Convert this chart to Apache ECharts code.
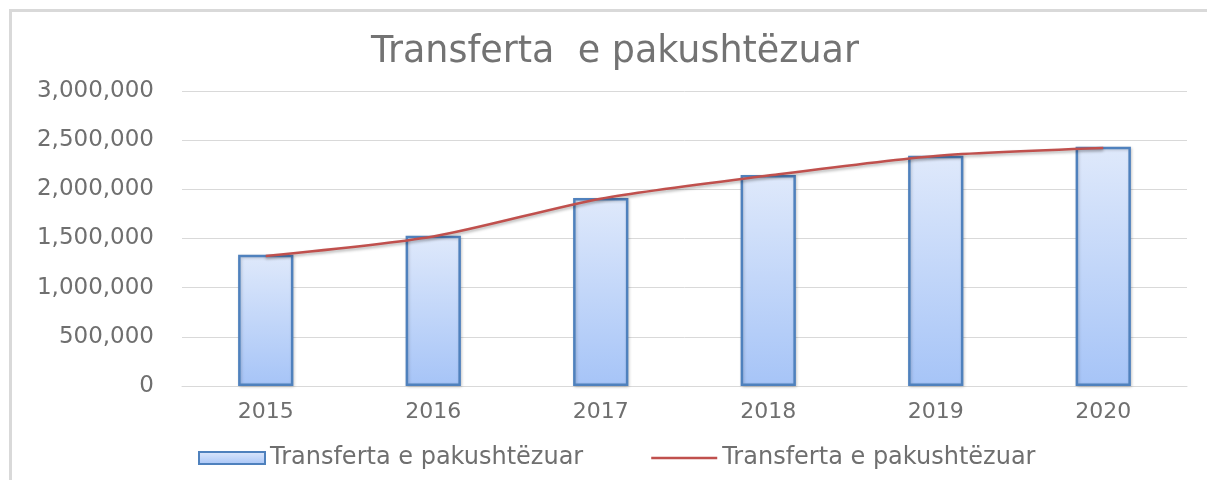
<!DOCTYPE html>
<html>
<head>
<meta charset="utf-8">
<script src="https://cdn.jsdelivr.net/npm/echarts@6/dist/echarts.min.js"></script>
<style>
  html, body { margin: 0; padding: 0; background: #fff; overflow: hidden; }
  #chart { width: 1207px; height: 480px; }
  /* light frame round the chart area (top and left edges only) */
  #frame {
    position: absolute; left: 9px; top: 9px; width: 1300px; height: 600px;
    border-top: 3px solid #d9d9d9; border-left: 3px solid #d9d9d9;
    pointer-events: none;
  }
</style>
</head>
<body>
<div id="chart"></div>
<div id="frame"></div>
<script>
// Data
const years = ['2015', '2016', '2017', '2018', '2019', '2020'];
const barValues = [1335000, 1528000, 1912000, 2147000, 2342000, 2432000];
const lineValues = [1322000, 1520000, 1905000, 2140000, 2340000, 2420000];
const yTicks = [0, 500000, 1000000, 1500000, 2000000, 2500000, 3000000];

const TITLE = 'Transferta  e pakushtëzuar';
const BAR_NAME = 'Transferta e pakushtëzuar';
const LINE_NAME = 'Transferta e pakushtëzuar ';  // trailing space keeps legend entries apart

const FONT = 'DejaVu Sans';
const GRAY = '#6f6f6f';

const chart = echarts.init(document.getElementById('chart'), null, { renderer: 'canvas' });

chart.setOption({
  backgroundColor: '#fff',
  animation: false,
  title: {
    text: TITLE,
    left: 366,
    top: 29,
    textStyle: { color: '#737373', fontSize: 36.5, fontWeight: 'normal', fontFamily: FONT },
  },
  grid: { left: 182, right: 20, top: 91, bottom: 94, containLabel: false },
  legend: {
    bottom: 5,
    left: 193,
    itemWidth: 66,
    itemHeight: 12,
    itemGap: 68,
    textStyle: { color: GRAY, fontSize: 24, fontFamily: FONT },
    data: [
      { name: BAR_NAME, icon: 'rect' },
      { name: LINE_NAME, icon: 'path://M0,0 L66,0 L66,2.5 L0,2.5 Z' },
    ],
  },
  xAxis: {
    type: 'category',
    data: years,
    axisLine: { lineStyle: { color: '#d9d9d9', width: 1 } },
    axisTick: { show: false },
    axisLabel: { color: GRAY, fontSize: 22, fontFamily: FONT, margin: 15 },
  },
  yAxis: {
    type: 'value',
    min: yTicks[0],
    max: yTicks[yTicks.length - 1],
    interval: yTicks[1] - yTicks[0],
    axisLine: { show: false },
    axisTick: { show: false },
    axisLabel: {
      color: GRAY, fontSize: 23, fontFamily: FONT, margin: 28,
      formatter: v => v.toLocaleString('en-US'),
    },
    splitLine: { lineStyle: { color: '#d9d9d9', width: 1 } },
  },
  series: [
    {
      name: BAR_NAME,
      type: 'bar',
      data: barValues,
      barWidth: '33%',
      itemStyle: {
        color: {
          type: 'linear', x: 0, y: 0, x2: 0, y2: 1,
          colorStops: [
            { offset: 0, color: '#dfe9fb' },
            { offset: 1, color: '#a6c4f7' },
          ],
        },
        borderColor: '#4f81bd',
        borderWidth: 2.5,
        shadowColor: 'rgba(0,0,0,0.18)',
        shadowBlur: 3,
        shadowOffsetX: 1,
        shadowOffsetY: 1,
      },
      emphasis: { disabled: true },
    },
    {
      name: LINE_NAME,
      type: 'line',
      data: lineValues,
      smooth: 0.25,
      symbol: 'none',
      lineStyle: {
        color: '#c0504d',
        width: 2.5,
        shadowColor: 'rgba(0,0,0,0.3)',
        shadowBlur: 3,
        shadowOffsetY: 2,
      },
      itemStyle: { color: '#c0504d' },
      emphasis: { disabled: true },
    },
  ],
});
</script>
</body>
</html>
